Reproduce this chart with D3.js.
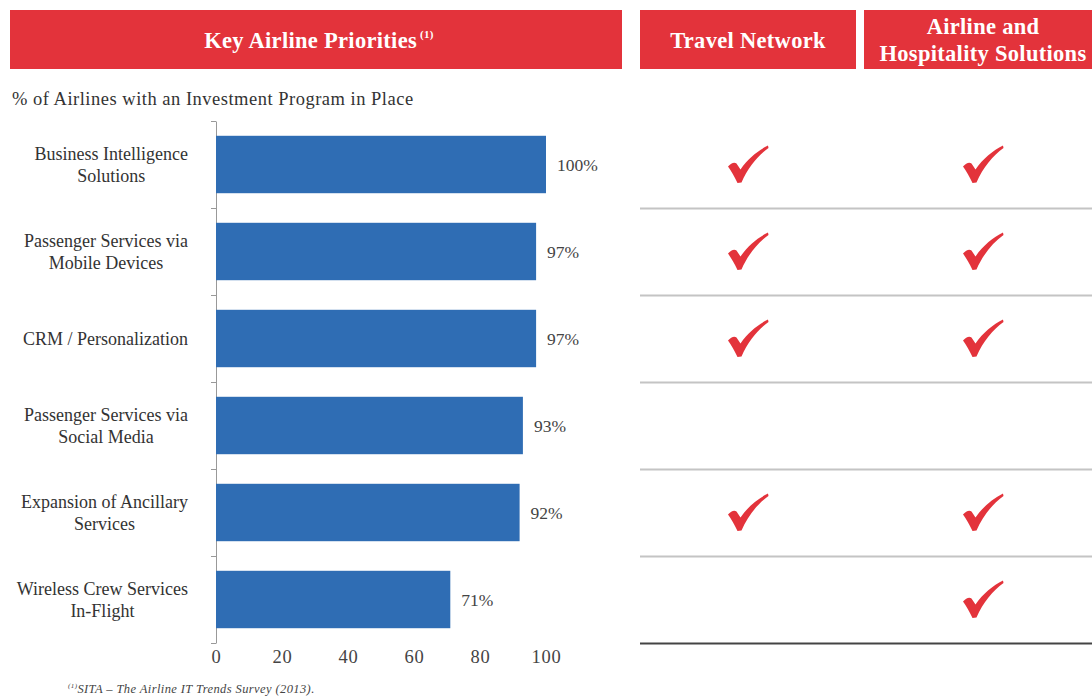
<!DOCTYPE html>
<html>
<head>
<meta charset="utf-8">
<script src="https://cdn.jsdelivr.net/npm/d3@7/dist/d3.min.js"></script>
<style>
  html, body { margin: 0; padding: 0; background: #fff; }
  svg { display: block; }
  text { font-family: "Liberation Serif", "Times New Roman", serif; }
</style>
</head>
<body>
<svg id="chart" width="1092" height="697"></svg>
<script>
const categories = [
  ["Business Intelligence", "Solutions"],
  ["Passenger Services via", "Mobile Devices"],
  ["CRM / Personalization"],
  ["Passenger Services via", "Social Media"],
  ["Expansion of Ancillary", "Services"],
  ["Wireless Crew Services", "In-Flight"]
];
const values = [100, 97, 97, 93, 92, 71];
const xTicks = [0, 20, 40, 60, 80, 100];
const travelNetwork = [true, true, true, false, true, false];
const hospitality = [true, true, true, false, true, true];
const headers = [
  { lines: ["Key Airline Priorities"], sup: "(1)" },
  { lines: ["Travel Network"] },
  { lines: ["Airline and", "Hospitality Solutions"] }
];
const subtitle = "% of Airlines with an Investment Program in Place";
const footnote = "SITA \u2013 The Airline IT Trends Survey (2013).";

const RED = "#e3333b";
const BLUE = "#2f6db4";
const svg = d3.select("#chart");

// Header boxes
const headerBoxes = [
  { x0: 10, x1: 622 },
  { x0: 640, x1: 856 },
  { x0: 864, x1: 1102 }
];
headers.forEach((h, i) => {
  const b = headerBoxes[i];
  svg.append("rect").attr("x", b.x0).attr("y", 10)
    .attr("width", b.x1 - b.x0).attr("height", 59).attr("fill", RED);
  const cx = (b.x0 + b.x1) / 2 + (i === 0 ? 3 : 0);
  const n = h.lines.length;
  h.lines.forEach((ln, j) => {
    const yy = 39.5 + (j - (n - 1) / 2) * 27 + 8;
    const t = svg.append("text").attr("x", cx).attr("y", yy)
      .attr("text-anchor", "middle").attr("fill", "#fff")
      .attr("font-weight", "bold").attr("font-size", 22.5)
      .attr("letter-spacing", 0.3).text(ln);
    if (h.sup) {
      t.append("tspan").attr("font-size", 11).attr("dy", -10).text(" " + h.sup);
    }
  });
});

// Subtitle
svg.append("text").attr("x", 12).attr("y", 105).attr("font-size", 18.5)
  .attr("letter-spacing", 0.5).attr("fill", "#333").text(subtitle);

// Scales
const x = d3.scaleLinear().domain([0, 100]).range([216, 546]);
const y = d3.scaleBand().domain(d3.range(categories.length))
  .range([121, 643]).paddingInner(0.34).paddingOuter(0.17);
const yIdx = d3.scaleLinear().domain([0, categories.length]).range([121, 643]);

// Left axis with boundary ticks
const axisG = svg.append("g").attr("transform", "translate(216,0)")
  .call(d3.axisLeft(yIdx).tickValues(d3.range(categories.length + 1))
    .tickFormat("").tickSizeInner(5).tickSizeOuter(0));
axisG.select(".domain").attr("stroke", "#999");
axisG.selectAll(".tick line").attr("stroke", "#999");

// Bars
svg.append("g").selectAll("rect").data(values).join("rect")
  .attr("x", x(0)).attr("y", (d, i) => y(i))
  .attr("width", d => x(d) - x(0)).attr("height", y.bandwidth())
  .attr("fill", BLUE);

// Value labels
svg.append("g").selectAll("text").data(values).join("text")
  .attr("x", d => x(d) + 11)
  .attr("y", (d, i) => y(i) + y.bandwidth() / 2 + 6)
  .attr("font-size", 17.5).attr("fill", "#444")
  .text(d => d + "%");

// Category labels: block right-aligned, lines centered within block
const labelG = svg.append("g");
categories.forEach((lines, i) => {
  const cy = y(i) + y.bandwidth() / 2;
  const g = labelG.append("g");
  const texts = lines.map((ln, j) => g.append("text")
    .attr("y", cy + (j - (lines.length - 1) / 2) * 22 + 6)
    .attr("font-size", 18).attr("fill", "#333")
    .attr("text-anchor", "middle").text(ln));
  const maxW = d3.max(texts, t => t.node().getComputedTextLength());
  const cx = 188 - maxW / 2;
  texts.forEach(t => t.attr("x", cx));
});

// X axis labels
const xAxisG = svg.append("g").attr("transform", "translate(0,643)")
  .call(d3.axisBottom(x).tickValues(xTicks).tickSize(0).tickPadding(7));
xAxisG.select(".domain").remove();
xAxisG.selectAll("text").attr("font-size", 18.5).attr("fill", "#444")
  .attr("letter-spacing", 0.8)
  .attr("font-family", "Liberation Serif, serif");

// Right table row separators
const rowLines = d3.range(1, categories.length + 1);
svg.append("g").selectAll("line").data(rowLines).join("line")
  .attr("x1", 640).attr("x2", 1092)
  .attr("y1", d => yIdx(d) + 0.5).attr("y2", d => yIdx(d) + 0.5)
  .attr("stroke", d => d === categories.length ? "#444" : "#c4c4c4")
  .attr("stroke-width", 2);

// Checkmarks
const checkPath = "M0,21 C3,18 6,16 8.5,18 L12.5,24 C20,13 30,5 40,0 L40.5,2.5 C30,10 20,22 13.5,37 L9.5,37.5 C6.5,31 3.5,26 0,21 Z";
function drawChecks(flags, cx) {
  svg.append("g").selectAll("path").data(flags.map((f, i) => ({ f, i })).filter(d => d.f))
    .join("path")
    .attr("d", checkPath)
    .attr("fill", RED)
    .attr("transform", d => `translate(${cx - 20},${y(d.i) + y.bandwidth() / 2 - 19})`);
}
drawChecks(travelNetwork, 748);
drawChecks(hospitality, 983);

// Footnote
const fn = svg.append("text").attr("x", 68).attr("y", 693)
  .attr("font-size", 12.5).attr("letter-spacing", 0.4)
  .attr("font-style", "italic").attr("fill", "#444");
fn.append("tspan").attr("font-size", 7).attr("dy", -5).text("(1)");
fn.append("tspan").attr("dy", 5).text(footnote);
</script>
</body>
</html>
